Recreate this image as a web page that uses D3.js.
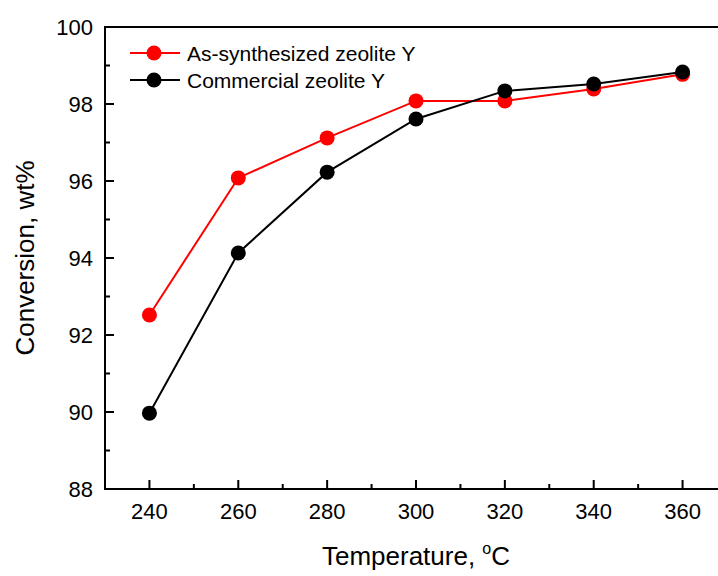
<!DOCTYPE html>
<html>
<head>
<meta charset="utf-8">
<script src="https://cdn.jsdelivr.net/npm/d3@7"></script>
<style>
  body { margin: 0; background: #fff; }
  svg { display: block; font-family: Arial, "Liberation Sans", sans-serif; }
</style>
</head>
<body>
<div id="chart"></div>
<script>
// temperatures (x) and conversions (y)
const temperatures = [240, 260, 280, 300, 320, 340, 360];
const asSynthesized = [92.52, 96.08, 97.12, 98.08, 98.08, 98.39, 98.77];
const commercial = [89.97, 94.13, 96.23, 97.61, 98.34, 98.52, 98.83];
const xTicks = [240, 260, 280, 300, 320, 340, 360];
const yTicks = [88, 90, 92, 94, 96, 98, 100];

const series = [
    { name: 'As-synthesized zeolite Y', color: '#ff0000', values: asSynthesized },
    { name: 'Commercial zeolite Y', color: '#000000', values: commercial }
];

const width = 718, height = 576;
// plot frame; right side runs past the window edge like the original
const plotLeft = 105, plotTop = 27, plotBottom = 489, plotRight = 727;

const svg = d3.select('#chart').append('svg')
    .attr('width', width)
    .attr('height', height);

const x = d3.scaleLinear().domain([230, 370]).range([plotLeft, plotRight]);
const y = d3.scaleLinear().domain([88, 100]).range([plotBottom, plotTop]);

// frame
svg.append('rect')
    .attr('x', plotLeft).attr('y', plotTop)
    .attr('width', plotRight - plotLeft).attr('height', plotBottom - plotTop)
    .attr('fill', 'none').attr('stroke', '#000').attr('stroke-width', 2);

// x ticks (inward), with minor ticks between
const xMinor = d3.range(230, 371, 10).filter(v => !xTicks.includes(v));
svg.append('g').selectAll('line').data(xTicks).enter().append('line')
    .attr('x1', d => x(d)).attr('x2', d => x(d))
    .attr('y1', plotBottom).attr('y2', plotBottom - 9)
    .attr('stroke', '#000').attr('stroke-width', 2);
svg.append('g').selectAll('line').data(xMinor).enter().append('line')
    .attr('x1', d => x(d)).attr('x2', d => x(d))
    .attr('y1', plotBottom).attr('y2', plotBottom - 5)
    .attr('stroke', '#000').attr('stroke-width', 2);
svg.append('g').selectAll('text').data(xTicks).enter().append('text')
    .attr('x', d => x(d)).attr('y', plotBottom + 30)
    .attr('text-anchor', 'middle')
    .style('font-size', '22px')
    .text(d => d);

// y ticks (inward), with minor ticks between
const yMinor = d3.range(89, 100, 2);
svg.append('g').selectAll('line').data(yTicks).enter().append('line')
    .attr('x1', plotLeft).attr('x2', plotLeft + 9)
    .attr('y1', d => y(d)).attr('y2', d => y(d))
    .attr('stroke', '#000').attr('stroke-width', 2);
svg.append('g').selectAll('line').data(yMinor).enter().append('line')
    .attr('x1', plotLeft).attr('x2', plotLeft + 5)
    .attr('y1', d => y(d)).attr('y2', d => y(d))
    .attr('stroke', '#000').attr('stroke-width', 2);
svg.append('g').selectAll('text').data(yTicks).enter().append('text')
    .attr('x', plotLeft - 12).attr('y', d => y(d) + 8)
    .attr('text-anchor', 'end')
    .style('font-size', '22px')
    .text(d => d);

// axis titles
const xTitle = svg.append('text')
    .attr('x', 416).attr('y', 565)
    .attr('text-anchor', 'middle')
    .style('font-size', '26px');
xTitle.append('tspan').text('Temperature, ');
xTitle.append('tspan').attr('dy', -11).style('font-size', '16px').text('o');
xTitle.append('tspan').attr('dy', 11).text('C');

svg.append('text')
    .attr('transform', `translate(34, ${(plotTop + plotBottom) / 2}) rotate(-90)`)
    .attr('text-anchor', 'middle')
    .style('font-size', '26px')
    .text('Conversion, wt%');

// lines and markers
const line = d3.line()
    .x((d, i) => x(temperatures[i]))
    .y(d => y(d));

series.forEach(s => {
    const g = svg.append('g');
    g.append('path')
        .datum(s.values)
        .attr('d', line)
        .attr('fill', 'none')
        .attr('stroke', s.color)
        .attr('stroke-width', 2);
    g.selectAll('circle').data(s.values).enter().append('circle')
        .attr('cx', (d, i) => x(temperatures[i]))
        .attr('cy', d => y(d))
        .attr('r', 7.5)
        .attr('fill', s.color);
});

// legend
const legend = svg.append('g');
series.forEach((s, i) => {
    const ly = 53 + i * 27;
    legend.append('line')
        .attr('x1', 130).attr('x2', 180)
        .attr('y1', ly).attr('y2', ly)
        .attr('stroke', s.color).attr('stroke-width', 2);
    legend.append('circle')
        .attr('cx', 154).attr('cy', ly).attr('r', 7.5)
        .attr('fill', s.color);
    legend.append('text')
        .attr('x', 187).attr('y', ly + 8)
        .style('font-size', '21px')
        .text(s.name);
});
</script>
</body>
</html>
